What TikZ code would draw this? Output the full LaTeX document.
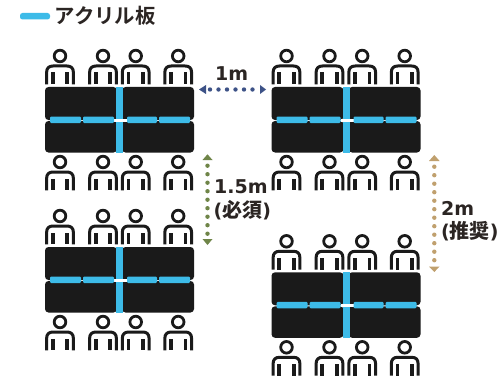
\documentclass[tikz,border=0pt]{standalone}
\usepackage{fontspec}
\setmainfont{DejaVu Sans}[BoldFont={DejaVu Sans Bold}]
\newfontfamily\cjkfont{Noto Sans CJK JP Bold}
\definecolor{ink}{HTML}{1A1A1A}
\definecolor{txt}{HTML}{2B2523}
\definecolor{acrylic}{HTML}{3DBBE8}
\definecolor{navy}{HTML}{3D5287}
\definecolor{olive}{HTML}{6F8548}
\definecolor{tan}{HTML}{C0A06E}
\tikzset{
  x=1pt,y=-1pt,
  tabletop/.style={fill=ink,rounded corners=3.5pt},
  panel/.style={fill=acrylic,rounded corners=1.2pt},
  label/.style={font=\bfseries,text=txt,inner sep=0pt,anchor=base west},
  dots/.style={line width=4.4pt,line cap=round,dash pattern=on 0pt off 8.5pt},
  head/.style={draw=ink,line width=2.8pt,fill=white},
  arch/.style={draw=ink,line width=3pt,line join=round},
}
\newcommand{\personat}[2]{%
  \begin{scope}[shift={(#1,#2)}]
    \draw[head] (0,-7.5) circle (5.8);
    \draw[arch] (-13.4,20.8) -- (-13.4,9) .. controls (-13.4,4.5) and (-11,2.5) .. (-7,2.5)
      -- (7,2.5) .. controls (11,2.5) and (13.4,4.5) .. (13.4,9) -- (13.4,20.8);
    \fill[ink] (-9.2,9) rectangle (-5.4,20.8);
    \fill[ink] (5.4,9) rectangle (9.2,20.8);
  \end{scope}}
\newcommand{\block}[2]{%
  \begin{scope}[shift={(#1,#2)}]
    \foreach \px in {15,58,90.7,133.2}{\personat{\px}{-23.5}\personat{\px}{82.5}}
    \fill[tabletop] (0,0) rectangle (72,33);
    \fill[tabletop] (77,0) rectangle (149,33);
    \fill[tabletop] (0,34) rectangle (72,65.5);
    \fill[tabletop] (77,34) rectangle (149,65.5);
    \fill[acrylic] (71,0) rectangle (78,65.5);
    \fill[white] (69,31.5) rectangle (82,34.5);
    \fill[panel] (5,29.5) rectangle (36,36);
    \fill[panel] (38,29.5) rectangle (69,36);
    \fill[panel] (82,29.5) rectangle (112,36);
    \fill[panel] (114,29.5) rectangle (145,36);
  \end{scope}}
\begin{document}
\begin{tikzpicture}
\useasboundingbox (0,0) rectangle (502,377);
\fill[white] (0,0) rectangle (502,377);
% legend
\fill[panel,rounded corners=2.5pt] (20,13) rectangle (50,19.5);
\node[label,font=\cjkfont\fontsize{20.4}{20}\selectfont] (legend) at (54.5,24) {アクリル板};
% table groups
\block{45}{87}
\block{271.5}{87}
\block{45}{247}
\block{271.5}{272.3}
% 1 m arrow
\coordinate (oneL) at (210,89.5);
\coordinate (oneR) at (254.5,89.5);
\draw[navy,dots] (oneL) -- (oneR);
\fill[navy] (199,89.5) -- (206,85) -- (206,94) -- cycle;
\fill[navy] (266,89.5) -- (260,85) -- (260,94) -- cycle;
% 1.5 m arrow
\coordinate (midT) at (207.5,165.7);
\coordinate (midB) at (207.5,234.5);
\draw[olive,dots] (midT) -- (midB);
\fill[olive] (207.5,154.3) -- (202.5,160) -- (212.5,160) -- cycle;
\fill[olive] (207.5,245) -- (202.5,239) -- (212.5,239) -- cycle;
% 2 m arrow
\coordinate (twoT) at (434.3,166.7);
\coordinate (twoB) at (434.3,261);
\draw[tan,dots] (twoT) -- (twoB);
\fill[tan] (434.3,155) -- (429,161) -- (439.6,161) -- cycle;
\fill[tan] (434.3,272) -- (429,266.5) -- (439.6,266.5) -- cycle;
% labels
\node[label,font=\bfseries\fontsize{19}{19}\selectfont] (lone) at (215,81) {1m};
\node[label,font=\bfseries\fontsize{19}{19}\selectfont] (lmid) at (214,193) {1.5m};
\node[label,font=\bfseries\fontsize{19}{18}\selectfont] (lreq) at (213.5,217) {(\mbox{\cjkfont\fontsize{20}{20}\selectfont 必須})};
\node[label,font=\bfseries\fontsize{19}{19}\selectfont] (ltwo) at (441,215) {2m};
\node[label,font=\bfseries\fontsize{19}{18}\selectfont] (lrec) at (441,238.5) {(\mbox{\cjkfont\fontsize{20}{20}\selectfont 推奨})};
\end{tikzpicture}
\end{document}
